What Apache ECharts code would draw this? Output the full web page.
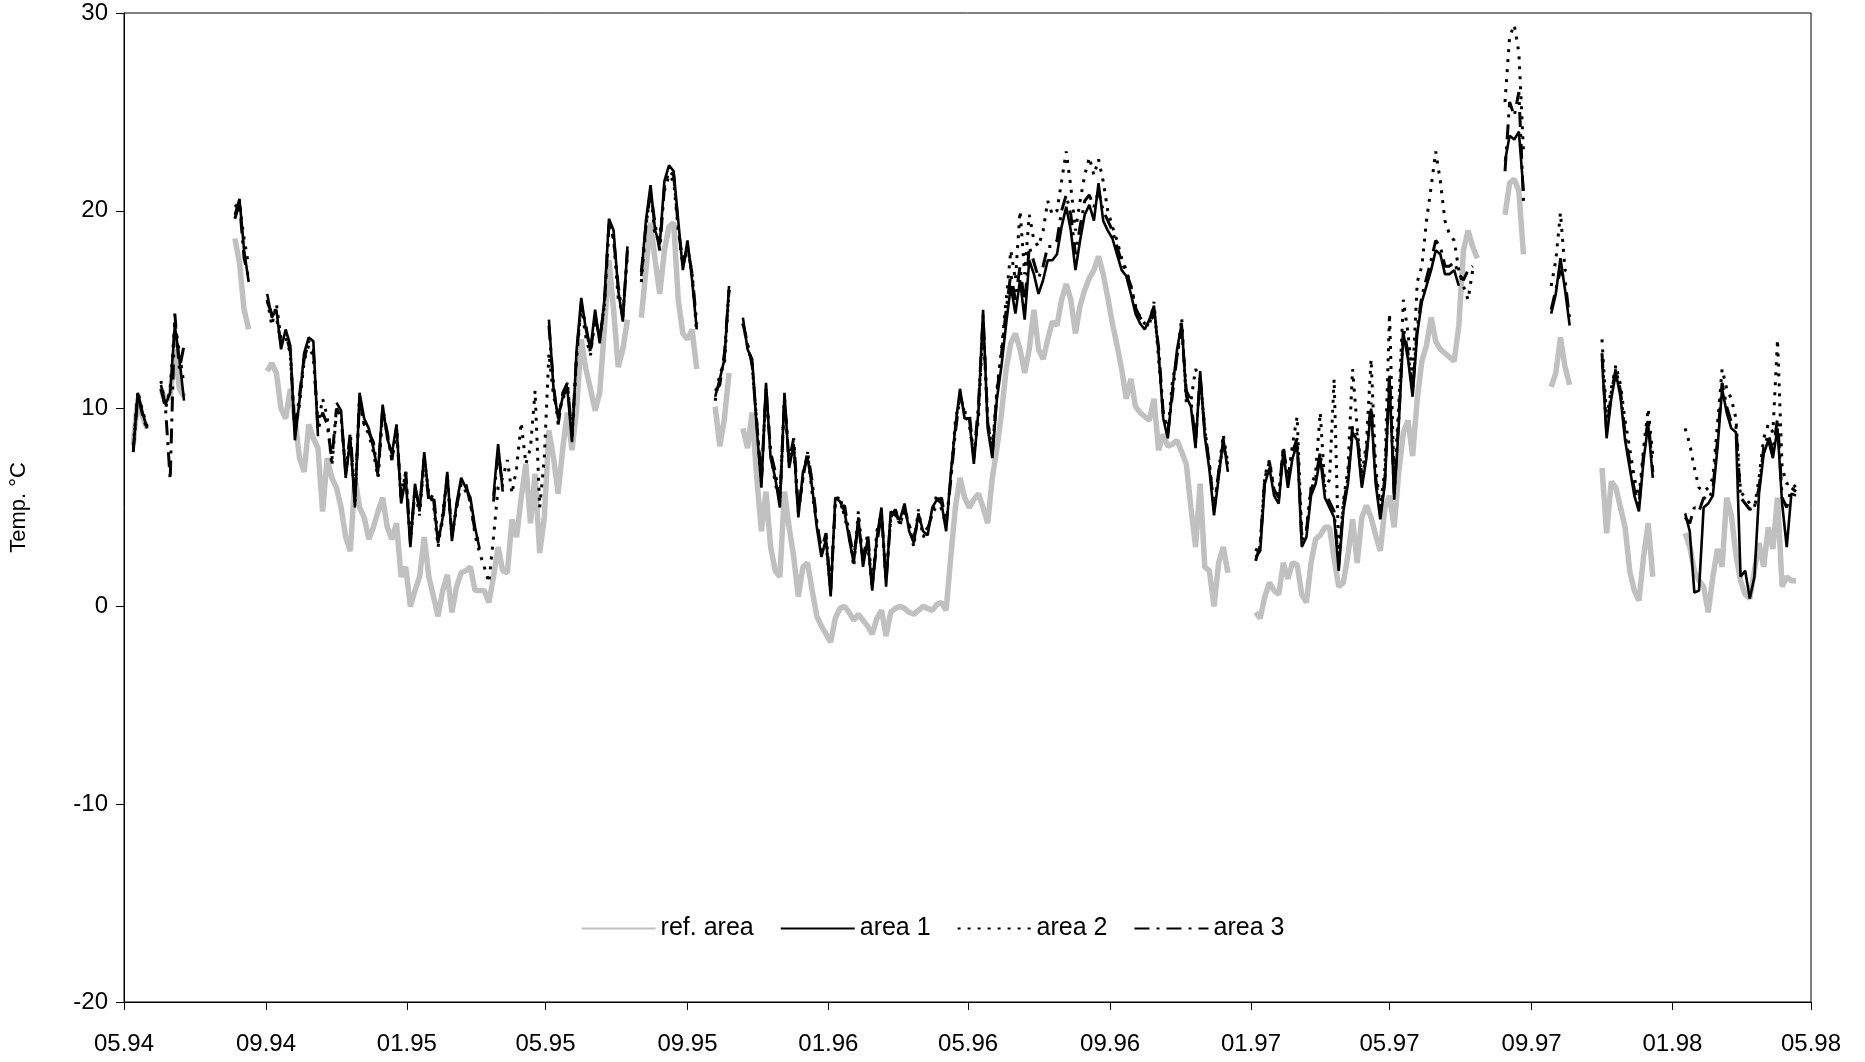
<!DOCTYPE html>
<html><head><meta charset="utf-8">
<script src="https://cdn.jsdelivr.net/npm/echarts@6/dist/echarts.min.js"></script>
<style>html,body{margin:0;padding:0;background:#fff}#chart{width:1865px;height:1062px}</style>
</head><body><div id="chart"></div>
<script>
const _ = null;
// sampling of the series: one value every 4 days from 1 May 1994
const startDate = '1994-05-01';
const endDate = '1998-05-01';
const stepDays = 4;
const tickDates = ['1994-05-01','1994-09-01','1995-01-01','1995-05-01','1995-09-01','1996-01-01','1996-05-01','1996-09-01','1997-01-01','1997-05-01','1997-09-01','1998-01-01','1998-05-01'];
const tickLabels = ['05.94','09.94','01.95','05.95','09.95','01.96','05.96','09.96','01.97','05.97','09.97','01.98','05.98'];
const seriesNames = ['ref. area','area 1','area 2','area 3'];

const refArea = [
_,_,8.2,10.5,9.6,9.0,_,_,11.0,10.4,
10.6,13.0,11.0,10.6,_,_,_,_,_,_,
_,_,_,_,18.6,17.4,15.0,14.0,_,_,
_,11.9,12.3,11.8,10.0,9.5,11.0,9.5,7.5,6.8,
9.2,8.5,8.0,4.8,7.5,6.5,6.0,5.0,3.5,2.8,
6.5,5.0,4.5,3.4,4.0,4.8,5.5,4.0,3.4,4.2,
1.5,2.0,0.0,0.8,1.5,3.5,1.5,0.5,-0.5,0.8,
1.6,-0.3,1.0,1.7,1.8,2.0,0.8,0.8,0.8,0.2,
1.5,3.0,1.8,1.7,4.4,3.5,5.5,7.2,4.2,6.7,
2.7,4.5,8.9,7.5,5.7,8.0,9.8,7.9,10.0,13.5,
12.0,11.0,9.9,10.8,14.0,17.5,15.0,12.1,13.0,14.5,
_,_,14.6,17.0,19.4,17.5,15.8,18.0,19.2,19.4,
15.5,13.8,13.5,14.0,12.0,_,_,_,10.1,8.1,
9.5,11.8,_,_,9.0,8.0,9.8,6.5,3.8,5.8,
3.0,1.8,1.5,5.8,4.0,2.5,0.5,2.0,2.2,0.8,
-0.5,-1.0,-1.4,-1.8,-0.6,-0.1,0.0,-0.3,-0.7,-0.4,
-0.7,-1.0,-1.4,-0.6,-0.2,-1.5,-0.3,-0.1,0.0,-0.1,
-0.3,-0.4,-0.2,0.0,-0.1,-0.2,0.1,0.2,-0.2,2.5,
5.0,6.5,5.5,5.0,5.4,5.7,5.0,4.2,6.5,8.0,
9.8,12.0,13.3,13.8,13.0,11.8,13.0,15.0,13.0,12.5,
13.5,14.4,14.2,15.5,16.3,15.5,13.8,15.2,16.0,16.6,
17.0,17.7,16.8,15.6,14.3,13.2,12.0,10.5,11.5,10.1,
9.8,9.6,9.4,10.5,7.9,8.7,8.1,8.2,8.4,7.8,
7.2,5.0,3.0,6.2,2.0,1.8,0.0,2.2,3.0,1.7,
_,_,_,_,_,-0.3,-0.6,0.5,1.2,0.8,
0.6,2.2,1.4,2.2,2.1,0.6,0.2,2.2,3.4,3.6,
4.0,4.0,2.4,1.0,1.2,2.6,4.4,2.2,4.5,5.1,
4.5,3.6,2.8,5.0,5.6,4.0,6.8,8.8,9.4,7.6,
10.5,12.4,13.2,14.6,13.4,13.0,12.8,12.6,12.4,14.2,
18.0,19.0,18.2,17.6,_,_,_,_,_,19.8,
21.4,21.6,21.0,17.8,_,_,_,_,_,11.1,
11.8,13.6,12.1,11.2,_,_,_,_,_,_,
7.0,3.7,6.3,6.0,5.0,4.0,1.8,0.8,0.3,2.5,
4.2,1.5,_,_,_,_,_,_,3.7,3.0,
1.8,1.3,1.0,-0.3,1.5,2.9,2.0,5.5,4.6,2.6,
1.3,0.6,0.4,1.8,3.2,2.0,4.0,2.9,5.5,1.0,
1.5,1.3,1.3,_,_,_
];

const area1 = [
_,_,7.9,10.8,9.8,9.0,_,_,11.2,10.2,
10.8,14.2,12.5,10.4,_,_,_,_,_,_,
_,_,_,_,19.8,20.6,18.0,16.4,_,_,
_,15.8,14.6,15.0,13.0,14.0,13.2,8.4,10.4,12.8,
13.6,13.4,8.6,_,_,_,10.3,9.9,6.5,8.5,
5.0,10.8,9.5,9.0,8.0,6.8,10.2,8.5,7.7,9.2,
5.2,6.5,3.0,6.2,4.8,7.8,5.5,5.4,3.2,4.5,
6.8,3.3,5.2,6.5,6.0,5.5,4.0,2.9,_,_,
5.6,8.2,5.8,_,_,_,_,_,_,_,
_,_,14.5,11.0,9.5,10.6,11.0,8.3,13.0,15.6,
14.0,13.0,15.0,13.3,15.5,19.6,19.0,16.0,14.4,18.2,
_,_,16.7,19.5,21.3,19.0,18.3,21.5,22.3,22.0,
19.5,17.0,18.5,16.5,14.0,_,_,_,10.6,11.5,
12.5,16.2,_,_,14.6,13.0,12.5,9.0,6.0,11.3,
7.5,6.5,5.0,10.8,7.0,8.2,4.5,6.8,7.5,6.0,
4.0,2.5,3.4,0.5,5.5,5.3,4.8,3.4,2.2,4.5,
2.0,3.4,0.8,3.5,5.0,1.0,4.8,4.6,4.4,5.2,
3.8,3.2,4.7,3.8,3.6,5.0,5.4,5.2,3.8,6.7,
9.1,11.0,9.5,9.5,7.2,9.9,15.0,9.0,7.5,10.5,
12.2,14.3,16.2,14.8,16.5,14.5,17.5,16.8,15.8,16.5,
17.5,17.5,17.8,19.2,20.2,19.0,17.0,18.5,19.8,20.3,
19.5,21.4,19.5,19.0,18.6,17.8,17.0,16.7,15.8,14.8,
14.3,14.0,14.5,15.2,12.8,9.5,8.5,11.0,13.0,14.3,
10.6,10.1,8.0,11.9,8.6,6.9,4.6,6.5,8.5,6.8,
_,_,_,_,_,2.5,2.8,6.2,7.0,5.6,
5.2,7.8,6.0,7.5,8.2,3.0,3.5,5.6,6.2,7.5,
5.5,5.0,4.5,1.8,4.8,6.2,8.8,8.4,6.0,7.5,
10.0,6.2,4.4,6.2,11.5,5.4,9.2,13.8,12.5,10.6,
13.8,15.4,16.2,17.0,18.0,17.8,16.8,16.8,17.0,16.2,
_,_,_,_,_,_,_,_,_,22.5,
23.8,23.6,24.0,21.0,_,_,_,_,_,14.8,
15.8,17.6,16.0,14.2,_,_,_,_,_,_,
12.5,8.5,10.5,11.8,10.6,8.4,7.0,5.6,4.8,7.4,
9.2,6.5,_,_,_,_,_,_,4.7,3.8,
0.7,0.8,5.0,5.2,5.6,8.0,11.0,9.8,9.0,8.8,
1.5,1.8,0.4,1.5,5.7,7.7,8.4,7.5,9.0,5.2,
3.0,5.7,5.6,_,_,_
];

const area2 = [
_,_,8.1,10.9,9.9,9.1,_,_,11.4,10.0,
11.0,14.4,12.8,11.2,_,_,_,_,_,_,
_,_,_,_,20.2,20.4,18.6,17.2,_,_,
_,15.5,14.2,15.3,13.5,13.6,12.8,8.8,10.2,12.4,
13.2,12.6,9.2,10.5,9.6,7.1,9.8,9.6,6.8,8.2,
5.4,10.5,9.2,8.7,7.8,6.5,9.8,8.7,7.4,9.0,
5.5,6.8,3.2,5.9,4.6,7.5,5.7,5.2,3.0,4.7,
6.5,3.5,5.0,6.2,5.8,5.3,3.6,2.7,2.0,1.2,
3.5,6.0,6.5,7.4,5.7,7.0,9.3,7.2,8.0,10.9,
5.0,7.5,12.8,10.6,9.8,10.4,11.3,8.6,12.6,15.2,
13.6,12.7,14.6,13.6,15.2,19.2,18.6,15.6,14.8,17.8,
_,_,16.4,19.2,21.0,18.6,18.7,21.0,21.8,21.5,
19.0,17.4,18.2,16.8,13.8,_,_,_,10.4,11.8,
12.2,16.0,_,_,14.3,13.2,12.2,9.3,6.3,11.0,
7.8,6.2,5.3,10.5,7.3,8.0,4.8,6.5,7.8,5.7,
4.2,2.8,3.2,0.8,5.3,5.6,4.5,3.7,2.0,4.8,
2.3,3.2,1.0,3.8,4.7,1.3,4.5,4.9,4.1,5.0,
4.1,3.0,4.9,3.5,3.9,4.7,5.7,4.9,4.1,6.4,
9.4,10.6,9.8,9.2,7.6,9.5,14.4,9.4,7.8,11.0,
13.0,15.5,18.0,16.5,20.0,16.8,19.8,18.5,18.2,19.0,
20.5,19.8,20.0,21.5,23.0,21.2,19.0,20.5,21.8,22.7,
21.8,22.6,21.5,20.0,19.2,18.5,17.6,17.0,16.2,15.2,
14.6,14.3,14.2,15.4,12.5,9.8,8.8,11.4,12.6,14.6,
10.3,10.4,12.0,11.5,9.0,7.2,4.9,6.8,8.7,7.2,
_,_,_,_,_,2.8,3.2,6.6,7.4,5.9,
5.6,8.0,6.4,8.2,9.6,3.6,3.9,6.0,6.8,9.8,
6.0,6.4,11.5,2.5,5.3,7.0,12.0,9.0,6.6,8.3,
12.5,7.0,5.0,7.0,14.8,6.2,10.2,15.5,13.8,11.5,
16.4,17.2,19.5,21.2,23.0,21.5,19.5,18.8,18.5,17.0,
16.2,15.5,17.0,_,_,_,_,_,_,25.5,
28.8,29.4,28.0,23.0,_,_,_,_,_,16.2,
17.5,19.9,17.0,16.8,_,_,_,_,_,_,
13.5,9.5,11.0,12.2,11.2,9.4,8.0,6.5,5.5,8.0,
10.0,7.6,_,_,_,_,_,_,9.0,8.2,
7.0,6.0,5.8,6.0,6.5,9.2,12.0,11.0,10.5,9.5,
5.8,5.5,5.2,5.0,6.5,8.5,9.2,8.8,13.5,7.0,
6.2,6.3,6.0,_,_,_
];

const area3 = [
_,_,7.8,10.7,9.7,8.9,_,_,11.0,10.0,
6.4,14.8,12.0,13.2,_,_,_,_,_,_,
_,_,_,_,19.6,20.4,17.6,16.6,_,_,
_,15.4,14.8,14.6,13.3,13.8,12.9,8.8,10.7,12.5,
13.4,13.0,8.9,9.8,9.2,7.4,10.0,9.6,6.8,8.8,
5.3,10.5,9.2,8.8,8.3,6.6,10.0,8.8,7.4,9.0,
5.5,6.8,3.3,6.0,5.0,7.5,5.3,5.7,3.4,4.3,
6.6,3.6,5.0,6.3,6.2,5.2,3.8,3.1,_,_,
5.3,7.9,6.0,_,_,_,_,_,_,_,
_,_,14.2,11.2,9.2,10.8,11.3,8.6,12.8,15.3,
14.2,12.8,14.7,13.5,15.2,19.3,18.6,16.2,14.6,18.0,
_,_,16.9,19.2,21.0,19.3,18.0,21.2,22.0,21.8,
19.2,17.2,18.2,16.8,14.3,_,_,_,10.9,11.2,
12.8,16.0,_,_,14.3,13.3,12.2,9.3,6.3,11.0,
7.8,6.8,5.3,10.5,7.3,8.5,4.8,6.5,7.8,6.3,
4.3,2.8,3.7,0.8,5.2,5.0,5.1,3.7,2.5,4.2,
2.3,3.7,1.1,3.2,4.7,1.3,4.5,4.9,4.1,4.9,
4.1,3.5,4.4,4.1,3.9,4.7,5.1,5.5,4.1,6.4,
8.8,10.7,9.8,9.8,7.5,10.2,14.7,9.3,7.8,10.8,
12.8,15.0,16.8,15.5,17.2,15.2,18.2,17.4,16.6,17.2,
18.2,18.2,18.5,20.0,20.8,19.8,17.8,19.2,20.5,20.8,
20.2,21.0,20.0,19.5,19.0,18.2,17.4,16.9,16.2,15.1,
14.6,14.3,14.2,14.9,13.1,9.8,8.8,10.7,12.7,14.0,
10.9,10.4,8.3,11.6,8.9,7.2,4.9,6.8,8.2,7.1,
_,_,_,_,_,2.3,3.1,6.5,7.3,5.9,
5.5,8.1,6.3,7.8,8.5,3.3,3.8,5.9,6.5,7.8,
5.8,5.3,4.8,2.1,5.1,6.5,9.1,8.7,6.3,7.8,
10.3,6.5,4.7,6.5,11.8,5.7,9.5,14.1,12.8,10.9,
14.1,15.7,16.6,17.5,18.5,18.2,17.2,17.2,17.4,16.8,
16.5,17.0,17.2,_,_,_,_,_,_,22.0,
25.5,24.8,26.0,20.5,_,_,_,_,_,15.0,
16.0,17.0,16.5,14.5,_,_,_,_,_,_,
12.8,8.8,10.8,12.0,10.9,8.7,7.3,5.9,5.1,7.7,
9.5,6.8,_,_,_,_,_,_,4.5,4.2,
5.0,4.8,5.5,5.4,5.9,8.4,11.3,10.1,9.3,9.1,
5.5,5.2,4.9,5.0,6.0,8.0,8.7,7.8,9.5,5.5,
5.0,6.0,5.8,_,_,_
];

function dayOffset(d) { return Math.round((Date.parse(d) - Date.parse(startDate)) / 86400000); }
const tickDays = tickDates.map(dayOffset);
function toPairs(vals) { return vals.map((v, i) => [i * stepDays, v]); }

const FONT = "'Liberation Sans', Arial, sans-serif";
const chart = echarts.init(document.getElementById('chart'), null, { renderer: 'canvas' });
const noSymbol = { color: 'transparent', borderColor: 'transparent', borderWidth: 0, opacity: 0 };
chart.setOption({
  animation: false,
  backgroundColor: '#ffffff',
  grid: { left: 120, right: 54, top: 13, bottom: 60, show: true, borderColor: '#000', borderWidth: 1, backgroundColor: 'transparent' },
  legend: {
    data: seriesNames.map(n => ({ name: n, itemStyle: noSymbol })),
    left: 'center', top: 916, padding: 0,
    itemWidth: 74, itemHeight: 14, itemGap: 26,
    itemStyle: noSymbol,
    textStyle: { fontFamily: FONT, fontSize: 25, color: '#000' }
  },
  xAxis: {
    type: 'value', min: 0, max: dayOffset(endDate),
    axisLine: { show: true, onZero: false, lineStyle: { color: '#000', width: 1 } },
    axisTick: { show: true, customValues: tickDays, length: 8, lineStyle: { color: '#000' } },
    axisLabel: { customValues: tickDays, margin: 30, fontFamily: FONT, fontSize: 24, color: '#000',
      formatter: v => tickLabels[tickDays.indexOf(Math.round(v))] || '' },
    splitLine: { show: false }
  },
  yAxis: {
    type: 'value', min: -20, max: 30, interval: 10,
    name: 'Temp. °C', nameLocation: 'middle', nameGap: 94, nameRotate: 90,
    nameTextStyle: { fontFamily: FONT, fontSize: 22, color: '#000' },
    axisLine: { show: true, onZero: false, lineStyle: { color: '#000', width: 1 } },
    axisTick: { show: true, length: 8, lineStyle: { color: '#000' } },
    axisLabel: { margin: 16, fontFamily: FONT, fontSize: 24, color: '#000' },
    splitLine: { show: false }
  },
  series: [
    { name: seriesNames[0], type: 'line', data: toPairs(refArea), symbol: 'none', showSymbol: false,
      lineStyle: { color: '#c0c0c0', width: 5.5 }, itemStyle: { color: '#c0c0c0' } },
    { name: seriesNames[1], type: 'line', data: toPairs(area1), symbol: 'none', showSymbol: false,
      lineStyle: { color: '#000', width: 2.6 }, itemStyle: { color: '#000' } },
    { name: seriesNames[2], type: 'line', data: toPairs(area2), symbol: 'none', showSymbol: false,
      lineStyle: { color: '#000', width: 3, type: [3, 7] }, itemStyle: { color: '#000' } },
    { name: seriesNames[3], type: 'line', data: toPairs(area3), symbol: 'none', showSymbol: false,
      lineStyle: { color: '#000', width: 3, type: [15, 7, 3, 7] }, itemStyle: { color: '#000' } }
  ]
});
</script></body></html>
